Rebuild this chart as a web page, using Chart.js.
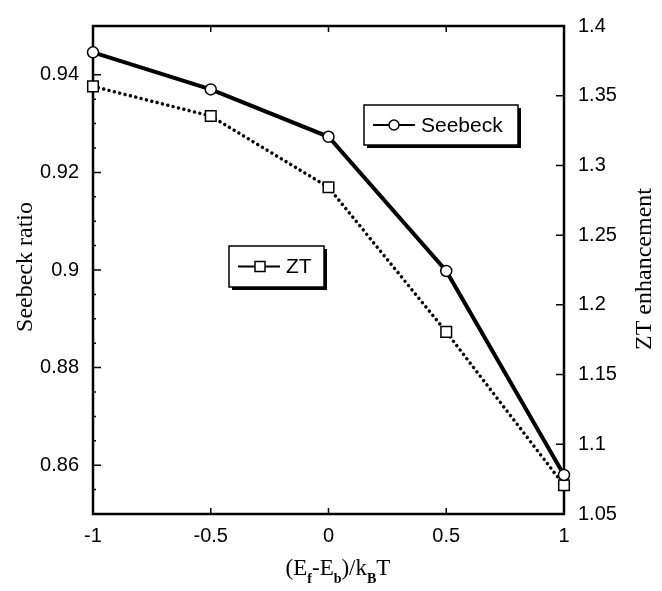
<!DOCTYPE html>
<html>
<head>
<meta charset="utf-8">
<script src="https://cdn.jsdelivr.net/npm/chart.js@4.4.0/dist/chart.umd.min.js"></script>
<style>
  html, body { margin: 0; padding: 0; background: #fff; }
  #wrap { width: 662px; height: 591px; }
</style>
</head>
<body>
<div id="wrap"><canvas id="chart" width="662" height="591"></canvas></div>
<script>
// values
const xValues = [-1, -0.5, 0, 0.5, 1];
const seebeckRatio = [0.9446, 0.9370, 0.9273, 0.8998, 0.8580];
const ztEnhancement = [1.3567, 1.3354, 1.2843, 1.1806, 1.0706];

const xTicks = [-1, -0.5, 0, 0.5, 1];
const xTickLabels = ['-1', '-0.5', '0', '0.5', '1'];
const leftTicks = [0.86, 0.88, 0.90, 0.92, 0.94];
const leftTickLabels = ['0.86', '0.88', '0.9', '0.92', '0.94'];
const rightTicks = [1.05, 1.1, 1.15, 1.2, 1.25, 1.3, 1.35, 1.4];
const rightTickLabels = ['1.05', '1.1', '1.15', '1.2', '1.25', '1.3', '1.35', '1.4'];

const SANS = '"Liberation Sans", Arial, sans-serif';
const SERIF = '"Liberation Serif", "Times New Roman", serif';

function setTicks(values) {
    return function(scale) {
        scale.ticks = values.map(v => ({ value: v }));
    };
}

// frame + inward tick marks
const framePlugin = {
    id: 'framePlugin',
    beforeDatasetsDraw(chart) {
        const ctx = chart.ctx;
        const a = chart.chartArea;
        const x = chart.scales.x, y = chart.scales.y, y2 = chart.scales.y2;
        ctx.save();
        ctx.strokeStyle = '#000';
        ctx.lineWidth = 1.5;
        ctx.beginPath();
        xTicks.forEach(v => {
            const px = x.getPixelForValue(v);
            ctx.moveTo(px, a.bottom); ctx.lineTo(px, a.bottom - 6);
            ctx.moveTo(px, a.top); ctx.lineTo(px, a.top + 6);
        });
        leftTicks.forEach(v => {
            const py = y.getPixelForValue(v);
            ctx.moveTo(a.left, py); ctx.lineTo(a.left + 8, py);
        });
        for (let v = 0.855; v < 0.95; v += 0.005) {
            const py = y.getPixelForValue(v);
            ctx.moveTo(a.left, py); ctx.lineTo(a.left + 3, py);
        }
        rightTicks.forEach(v => {
            const py = y2.getPixelForValue(v);
            ctx.moveTo(a.right, py); ctx.lineTo(a.right - 8, py);
        });
        ctx.stroke();
        ctx.lineWidth = 2.5;
        ctx.strokeRect(a.left, a.top, a.right - a.left, a.bottom - a.top);
        ctx.restore();
    },
    afterDraw(chart) {
        const ctx = chart.ctx;
        ctx.save();
        ctx.fillStyle = '#000';

        // boxed legends
        drawLegendBox(ctx, 364, 105, 154, 40, 'Seebeck', 'circle');
        drawLegendBox(ctx, 229, 246, 95, 41, 'ZT', 'rect');

        // y titles
        ctx.font = '24px ' + SERIF;
        ctx.textAlign = 'center';
        ctx.textBaseline = 'middle';
        ctx.save();
        ctx.translate(26, 267);
        ctx.rotate(-Math.PI / 2);
        ctx.fillText('Seebeck ratio', 0, 0);
        ctx.restore();
        ctx.save();
        ctx.translate(645, 269);
        ctx.rotate(-Math.PI / 2);
        ctx.fillText('ZT enhancement', 0, 0);
        ctx.restore();

        // x title with subscripts
        const parts = [
            ['(E', false], ['f', true], ['-E', false], ['b', true],
            [')/k', false], ['B', true], ['T', false]
        ];
        const mainFont = '23px ' + SERIF, subFont = 'bold 14px ' + SERIF;
        let total = 0;
        parts.forEach(p => { ctx.font = p[1] ? subFont : mainFont; total += ctx.measureText(p[0]).width; });
        let cx = 338 - total / 2;
        const base = 575;
        ctx.textAlign = 'left';
        ctx.textBaseline = 'alphabetic';
        parts.forEach(p => {
            ctx.font = p[1] ? subFont : mainFont;
            ctx.fillText(p[0], cx, p[1] ? base + 8 : base);
            cx += ctx.measureText(p[0]).width;
        });
        ctx.restore();
    }
};

function drawLegendBox(ctx, bx, by, bw, bh, label, marker) {
    ctx.save();
    ctx.fillStyle = '#000';
    ctx.fillRect(bx + 3, by + 3, bw, bh);
    ctx.fillStyle = '#fff';
    ctx.fillRect(bx, by, bw, bh);
    ctx.strokeStyle = '#000';
    ctx.lineWidth = 1.5;
    ctx.strokeRect(bx, by, bw, bh);
    const cy = by + bh / 2;
    ctx.lineWidth = 2;
    ctx.beginPath();
    ctx.moveTo(bx + 9, cy); ctx.lineTo(bx + 51, cy);
    ctx.stroke();
    ctx.fillStyle = '#fff';
    ctx.lineWidth = 1.5;
    ctx.beginPath();
    if (marker === 'circle') ctx.arc(bx + 30, cy, 5, 0, Math.PI * 2);
    else ctx.rect(bx + 26, cy - 5, 10, 10);
    ctx.fill(); ctx.stroke();
    ctx.fillStyle = '#000';
    ctx.font = '21px ' + SANS;
    ctx.textAlign = 'left';
    ctx.textBaseline = 'middle';
    ctx.fillText(label, bx + 57, cy + 1);
    ctx.restore();
}

const tickFont = { family: SANS, size: 20 };

const ctx = document.getElementById('chart').getContext('2d');
const chart = new Chart(ctx, {
    type: 'line',
    data: {
        datasets: [{
            label: 'Seebeck',
            data: xValues.map((x, i) => ({ x: x, y: seebeckRatio[i] })),
            yAxisID: 'y',
            borderColor: '#000',
            borderWidth: 4,
            pointStyle: 'circle',
            pointRadius: 5.5,
            pointBorderWidth: 1.5,
            pointBackgroundColor: '#fff',
            pointBorderColor: '#000',
            clip: false
        }, {
            label: 'ZT',
            data: xValues.map((x, i) => ({ x: x, y: ztEnhancement[i] })),
            yAxisID: 'y2',
            borderColor: '#000',
            borderWidth: 3.5,
            borderDash: [0.01, 5.5],
            borderCapStyle: 'round',
            pointStyle: 'rect',
            pointRadius: 7.5,
            pointBorderWidth: 1.5,
            pointBackgroundColor: '#fff',
            pointBorderColor: '#000',
            clip: false
        }]
    },
    options: {
        responsive: false,
        animation: false,
        layout: { padding: { top: 21, left: 0, right: 0, bottom: 0 } },
        plugins: { legend: { display: false }, tooltip: { enabled: false } },
        scales: {
            x: {
                type: 'linear',
                min: -1, max: 1,
                afterBuildTicks: setTicks(xTicks),
                afterFit(s) { s.height = 77; },
                grid: { display: false, drawTicks: false },
                border: { display: false },
                ticks: { color: '#000', font: tickFont, padding: 10, maxRotation: 0,
                         callback: (v, i) => xTickLabels[i] }
            },
            y: {
                type: 'linear', position: 'left',
                min: 0.85, max: 0.95,
                afterBuildTicks: setTicks(leftTicks),
                afterFit(s) { s.width = 93; },
                grid: { display: false, drawTicks: false },
                border: { display: false },
                ticks: { color: '#000', font: tickFont, padding: 14,
                         callback: (v, i) => leftTickLabels[i] }
            },
            y2: {
                type: 'linear', position: 'right',
                min: 1.05, max: 1.4,
                afterBuildTicks: setTicks(rightTicks),
                afterFit(s) { s.width = 98; },
                grid: { display: false, drawTicks: false },
                border: { display: false },
                ticks: { color: '#000', font: tickFont, padding: 14,
                         callback: (v, i) => rightTickLabels[i] }
            }
        }
    },
    plugins: [framePlugin]
});
</script>
</body>
</html>
